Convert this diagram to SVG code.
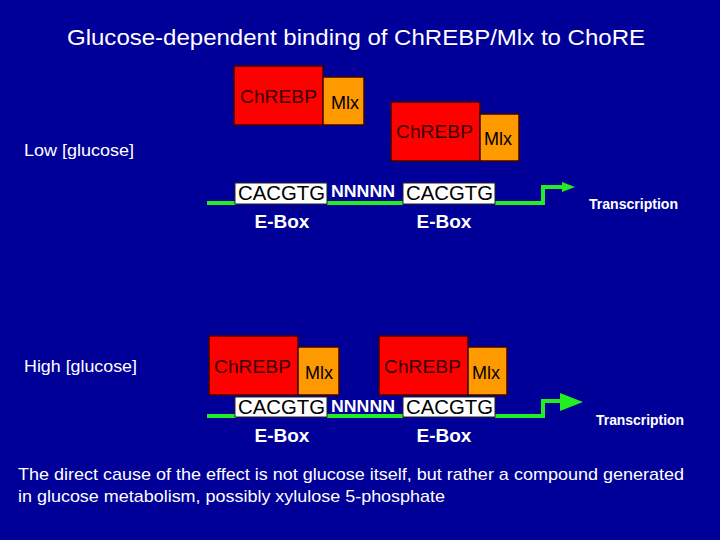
<svg xmlns="http://www.w3.org/2000/svg" width="720" height="540" viewBox="0 0 720 540">
<style>
text{font-family:"Liberation Sans",Arial,sans-serif}
.w{fill:#fff}
.red{fill:#ff0000;stroke:#400000;stroke-width:1.5}
.org{fill:#ff9900;stroke:#400000;stroke-width:1.5}
.rt{fill:#3a0000;font-size:19px}
.mt{fill:#000;font-size:18px}
.box{fill:#fff;stroke:#222;stroke-width:1}
.seq{fill:#000;font-size:20px}
.nn{fill:#fff;font-size:17px;font-weight:bold}
.eb{fill:#fff;font-size:19px;font-weight:bold}
.dna{stroke:#22ee22;stroke-width:4;fill:none}
.tr{fill:#fff;font-size:14px;font-weight:bold}
</style>
<rect width="720" height="540" fill="#000099"/>
<text class="w" x="67" y="45" font-size="22" textLength="578" lengthAdjust="spacingAndGlyphs">Glucose-dependent binding of ChREBP/Mlx to ChoRE</text>
<text class="w" x="24" y="156" font-size="17" textLength="110" lengthAdjust="spacingAndGlyphs">Low [glucose]</text>
<text class="w" x="24" y="372" font-size="17" textLength="113" lengthAdjust="spacingAndGlyphs">High [glucose]</text>
<g id="connectors">
<path class="dna" d="M207 203H236M327 203H403M495 203H543V187H564"/>
<polygon points="562,182 575,187 562,192" fill="#22ee22"/>
<path class="dna" d="M207 416H236M327 416H403M495 416H543V401H562"/>
<polygon points="560,393 583,402 560,411" fill="#22ee22"/>
</g>
<g id="top-chrebp1"><rect class="red" x="234" y="66" width="89" height="59"/><text class="rt" x="240" y="103" textLength="77" lengthAdjust="spacingAndGlyphs">ChREBP</text></g>
<g id="top-mlx1"><rect class="org" x="323" y="77" width="41" height="48"/><text class="mt" x="331" y="109">Mlx</text></g>
<g id="top-chrebp2"><rect class="red" x="391" y="102" width="89" height="59"/><text class="rt" x="396" y="138" textLength="77" lengthAdjust="spacingAndGlyphs">ChREBP</text></g>
<g id="top-mlx2"><rect class="org" x="480" y="114" width="39" height="47"/><text class="mt" x="484" y="145">Mlx</text></g>
<g id="top-ebox1"><rect class="box" x="235" y="183" width="92" height="21"/><text class="seq" x="238" y="200" textLength="87" lengthAdjust="spacingAndGlyphs">CACGTG</text><text class="eb" x="282" y="228" text-anchor="middle">E-Box</text></g>
<g id="top-spacer"><text class="nn" x="331" y="197" textLength="64" lengthAdjust="spacingAndGlyphs">NNNNN</text></g>
<g id="top-ebox2"><rect class="box" x="403" y="183" width="92" height="21"/><text class="seq" x="406" y="200" textLength="87" lengthAdjust="spacingAndGlyphs">CACGTG</text><text class="eb" x="444" y="228" text-anchor="middle">E-Box</text></g>
<g id="top-transcription"><text class="tr" x="589" y="209" textLength="89" lengthAdjust="spacingAndGlyphs">Transcription</text></g>
<g id="bot-chrebp1"><rect class="red" x="209" y="336" width="89" height="59"/><text class="rt" x="214" y="373" textLength="77" lengthAdjust="spacingAndGlyphs">ChREBP</text></g>
<g id="bot-mlx1"><rect class="org" x="298" y="347" width="41" height="48"/><text class="mt" x="305" y="379">Mlx</text></g>
<g id="bot-chrebp2"><rect class="red" x="379" y="336" width="89" height="59"/><text class="rt" x="384" y="373" textLength="77" lengthAdjust="spacingAndGlyphs">ChREBP</text></g>
<g id="bot-mlx2"><rect class="org" x="468" y="347" width="39" height="48"/><text class="mt" x="472" y="379">Mlx</text></g>
<g id="bot-ebox1"><rect class="box" x="235" y="397" width="92" height="20"/><text class="seq" x="238" y="414" textLength="87" lengthAdjust="spacingAndGlyphs">CACGTG</text><text class="eb" x="282" y="442" text-anchor="middle">E-Box</text></g>
<g id="bot-spacer"><text class="nn" x="331" y="412" textLength="64" lengthAdjust="spacingAndGlyphs">NNNNN</text></g>
<g id="bot-ebox2"><rect class="box" x="403" y="397" width="92" height="20"/><text class="seq" x="406" y="414" textLength="87" lengthAdjust="spacingAndGlyphs">CACGTG</text><text class="eb" x="444" y="442" text-anchor="middle">E-Box</text></g>
<g id="bot-transcription"><text class="tr" x="596" y="425" textLength="88" lengthAdjust="spacingAndGlyphs">Transcription</text></g>
<text class="w" x="18" y="480" font-size="17" textLength="666" lengthAdjust="spacingAndGlyphs">The direct cause of the effect is not glucose itself, but rather a compound generated</text>
<text class="w" x="18" y="502" font-size="17" textLength="427" lengthAdjust="spacingAndGlyphs">in glucose metabolism, possibly xylulose 5-phosphate</text>
</svg>
